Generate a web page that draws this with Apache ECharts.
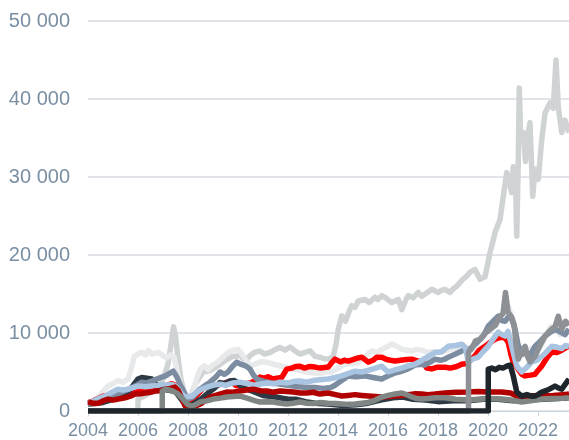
<!DOCTYPE html>
<html>
<head>
<meta charset="utf-8">
<script src="https://cdn.jsdelivr.net/npm/echarts@6/dist/echarts.min.js"></script>
<style>html,body{margin:0;padding:0;background:#fff}#c{width:569px;height:440px}</style>
</head>
<body>
<div id="c"></div>
<script>
const yTicks = [0, 10000, 20000, 30000, 40000, 50000];
const xYears = [2004, 2006, 2008, 2010, 2012, 2014, 2016, 2018, 2020, 2022];

const lightGrey = [[2004,0],[2006.0,0],[2006.0,1500],[2006.3,2000],[2006.6,2600],[2006.9,3300],[2007.05,4500],[2007.2,6000],[2007.32,8500],[2007.42,10800],[2007.5,9600],[2007.6,6800],[2007.72,4000],[2007.88,2000],[2008.05,1400],[2008.3,3500],[2008.6,5000],[2008.9,5200],[2009.2,5800],[2009.5,6500],[2009.8,7000],[2010.1,7100],[2010.3,6300],[2010.45,7000],[2010.65,7500],[2010.88,7700],[2011.05,7300],[2011.28,7500],[2011.5,7900],[2011.68,8140],[2011.88,7800],[2012.08,8200],[2012.28,7700],[2012.48,7300],[2012.68,7500],[2012.88,7720],[2013.08,7000],[2013.28,6900],[2013.45,6700],[2013.61,6650],[2013.8,6900],[2013.92,8500],[2014.01,10490],[2014.15,12200],[2014.3,11500],[2014.45,12800],[2014.55,13500],[2014.68,13300],[2014.81,14100],[2015.08,14300],[2015.25,13900],[2015.48,14600],[2015.6,14300],[2015.75,14800],[2015.95,14400],[2016.15,13900],[2016.41,14300],[2016.55,13000],[2016.68,14000],[2016.81,14800],[2017.0,14500],[2017.21,15200],[2017.35,14700],[2017.48,15000],[2017.62,15300],[2017.75,15600],[2018.01,15200],[2018.15,15500],[2018.28,15600],[2018.48,15200],[2018.62,15700],[2018.75,16000],[2019.0,16900],[2019.15,17300],[2019.28,17800],[2019.48,18150],[2019.68,16900],[2019.88,17200],[2020.08,20300],[2020.18,21500],[2020.28,22900],[2020.48,24550],[2020.61,27500],[2020.75,30560],[2020.85,29500],[2020.95,28000],[2021.01,31300],[2021.1,30000],[2021.15,22400],[2021.21,32000],[2021.25,41400],[2021.31,35000],[2021.41,35700],[2021.5,32000],[2021.6,35500],[2021.68,36950],[2021.79,27500],[2021.88,31000],[2022.01,29700],[2022.15,34800],[2022.28,38200],[2022.48,39500],[2022.61,38800],[2022.72,45000],[2022.81,39000],[2022.95,35700],[2023.08,37300],[2023.24,35700]];

const veryLightGrey = [[2004,1000],[2004.2,1300],[2004.4,1700],[2004.6,2500],[2004.8,3200],[2005.0,3500],[2005.2,3900],[2005.4,3700],[2005.6,4100],[2005.72,5300],[2005.85,7000],[2006.0,7300],[2006.15,7540],[2006.3,7200],[2006.41,7750],[2006.55,7300],[2006.7,7400],[2006.81,7540],[2007.0,7070],[2007.15,6800],[2007.3,7200],[2007.45,6900],[2007.6,4500],[2007.75,3000],[2007.88,1960],[2008.05,1400],[2008.2,2500],[2008.35,4200],[2008.5,5400],[2008.65,5800],[2008.8,5300],[2009.0,5900],[2009.2,6300],[2009.4,6900],[2009.6,7500],[2009.8,7800],[2010.0,7900],[2010.15,7300],[2010.3,6600],[2010.48,5800],[2010.7,6000],[2010.9,6300],[2011.15,6250],[2011.4,6000],[2011.68,5800],[2011.95,5600],[2012.21,5370],[2012.5,5200],[2012.75,4950],[2013.0,4900],[2013.28,4800],[2013.5,5000],[2013.75,5000],[2014.0,5500],[2014.28,6000],[2014.55,6100],[2014.81,6200],[2015.1,7000],[2015.35,7700],[2015.55,7500],[2015.75,7900],[2015.95,8200],[2016.15,8570],[2016.35,8300],[2016.55,7900],[2016.75,7800],[2016.95,7700],[2017.15,7900],[2017.35,7800],[2017.61,7500],[2017.8,7600],[2018.01,7500],[2018.28,7700],[2018.6,8000],[2019.0,8500],[2019.2,7600],[2019.5,8300],[2019.8,9800],[2020.1,11000],[2020.4,11800],[2020.6,12500],[2020.8,13500],[2020.95,12000],[2021.1,10000],[2021.25,7800],[2021.5,7500],[2021.7,8000],[2021.9,7400],[2022.1,8300],[2022.3,9500],[2022.5,10800],[2022.7,10500],[2022.9,9800],[2023.1,10300],[2023.24,9900]];

const red = [[2004,1000],[2004.2,1250],[2004.4,1600],[2004.6,1900],[2004.8,2000],[2005.0,2200],[2005.2,2100],[2005.45,2300],[2005.7,2500],[2005.9,2700],[2006.2,2800],[2006.5,2800],[2006.8,3000],[2007.1,3200],[2007.35,3500],[2007.55,3200],[2007.75,2000],[2007.95,1300],[2008.15,1200],[2008.4,2200],[2008.6,2900],[2008.88,3200],[2009.15,3300],[2009.4,3500],[2009.7,3840],[2009.9,3300],[2010.1,3200],[2010.3,3500],[2010.5,3600],[2010.7,3900],[2010.88,4350],[2011.05,4200],[2011.2,4400],[2011.4,4100],[2011.55,4200],[2011.75,4300],[2011.88,5000],[2011.95,5370],[2012.15,5500],[2012.3,5700],[2012.48,5750],[2012.65,5500],[2012.85,5700],[2013.08,5630],[2013.3,5500],[2013.61,5630],[2013.75,6200],[2013.88,6650],[2014.1,6300],[2014.25,6500],[2014.41,6400],[2014.6,6600],[2014.8,6800],[2014.95,6900],[2015.21,6270],[2015.4,6500],[2015.55,6900],[2015.75,6900],[2015.95,6600],[2016.1,6500],[2016.28,6400],[2016.5,6500],[2016.75,6600],[2016.95,6650],[2017.21,6400],[2017.4,6300],[2017.55,5500],[2017.75,5400],[2017.95,5600],[2018.28,5600],[2018.5,5500],[2018.75,5700],[2018.95,6000],[2019.15,6100],[2019.3,6500],[2019.48,7100],[2019.65,7800],[2019.88,8300],[2020.05,8700],[2020.28,9200],[2020.55,9460],[2020.7,9300],[2020.81,8800],[2020.92,7200],[2021.01,6270],[2021.21,5370],[2021.35,4700],[2021.48,4500],[2021.7,4600],[2021.88,4700],[2022.0,5200],[2022.15,5750],[2022.35,6800],[2022.55,7550],[2022.75,7500],[2022.95,7800],[2023.1,8100],[2023.24,8300]];

const darkSlate = [[2004,900],[2004.3,950],[2004.6,1100],[2005.0,1500],[2005.4,1900],[2005.7,2800],[2005.88,3600],[2006.0,4100],[2006.15,4300],[2006.35,4200],[2006.55,4100],[2006.68,3600],[2006.9,2800],[2007.2,2700],[2007.5,2500],[2007.8,1200],[2008.1,700],[2008.5,1500],[2008.8,2300],[2009.05,2900],[2009.28,3650],[2009.45,3500],[2009.68,3850],[2009.85,3900],[2009.95,3700],[2010.2,3000],[2010.6,2500],[2011.0,2000],[2011.5,1800],[2012.0,1500],[2012.3,1500],[2012.7,1200],[2013.08,1000],[2013.6,900],[2014.2,700],[2014.7,800],[2015.2,1000],[2015.7,1400],[2016.2,1700],[2016.6,1800],[2017.0,1500],[2017.5,1400],[2018.0,1200],[2018.6,1300],[2019.2,1300],[2019.8,1500],[2020.4,1500],[2021.0,1300],[2021.6,1400],[2022.2,1500],[2022.8,1600],[2023.24,1700]];

const slate = [[2004,1000],[2004.3,1100],[2004.6,1400],[2005.0,1900],[2005.4,2500],[2005.7,2900],[2005.88,3200],[2006.15,3700],[2006.35,3600],[2006.55,3840],[2006.75,4100],[2006.95,4350],[2007.1,4500],[2007.21,4730],[2007.41,5100],[2007.55,4400],[2007.7,3300],[2007.88,2170],[2008.01,1530],[2008.2,1800],[2008.48,2800],[2008.7,3300],[2008.88,3700],[2009.1,4300],[2009.28,5000],[2009.45,4700],[2009.6,5000],[2009.8,5800],[2009.95,6270],[2010.1,6000],[2010.21,5900],[2010.35,5700],[2010.48,5370],[2010.62,4600],[2010.75,4100],[2011.01,3840],[2011.3,3600],[2011.6,3500],[2012.0,3300],[2012.4,3100],[2012.8,3000],[2013.08,3000],[2013.4,2900],[2013.7,3000],[2013.88,3300],[2014.1,3800],[2014.41,4500],[2014.7,4400],[2015.08,4500],[2015.4,4300],[2015.75,4100],[2016.0,4500],[2016.3,4900],[2016.55,5100],[2016.8,5400],[2017.08,5900],[2017.3,6000],[2017.48,5900],[2017.7,6300],[2017.88,6650],[2018.1,6500],[2018.28,6650],[2018.41,6900],[2018.7,7300],[2018.95,7700],[2019.1,7900],[2019.3,8000],[2019.61,8950],[2019.85,9800],[2020.01,10870],[2020.2,11500],[2020.41,12150],[2020.55,11600],[2020.68,11500],[2020.85,12200],[2020.95,11800],[2021.08,10500],[2021.2,8500],[2021.28,7900],[2021.4,7300],[2021.55,7500],[2021.7,7200],[2021.88,8300],[2022.05,8800],[2022.28,9600],[2022.45,10000],[2022.68,10500],[2022.85,10200],[2023.08,9800],[2023.24,10500]];

const lightBlue = [[2004,1000],[2004.2,1200],[2004.4,1600],[2004.68,1900],[2004.9,2300],[2005.2,2800],[2005.4,2700],[2005.6,2800],[2005.8,3000],[2006.0,3200],[2006.3,3100],[2006.55,3200],[2006.8,3300],[2006.95,3400],[2007.15,3300],[2007.35,3400],[2007.5,3200],[2007.61,2800],[2007.75,2200],[2007.88,1800],[2008.15,1900],[2008.35,2400],[2008.55,2800],[2008.8,3100],[2009.0,3300],[2009.28,3450],[2009.5,3300],[2009.8,3600],[2010.08,3700],[2010.4,3500],[2010.65,3300],[2010.88,3450],[2011.2,3600],[2011.45,3500],[2011.68,3700],[2012.0,3600],[2012.25,3800],[2012.48,3840],[2012.75,3700],[2013.0,3900],[2013.28,4000],[2013.61,4100],[2013.9,4300],[2014.15,4500],[2014.4,4800],[2014.68,5100],[2014.95,5000],[2015.21,5200],[2015.5,5500],[2015.75,5750],[2015.9,5300],[2016.01,5000],[2016.3,5300],[2016.55,5500],[2016.8,5800],[2017.08,6000],[2017.3,6400],[2017.61,7000],[2017.88,7500],[2018.15,7600],[2018.41,8300],[2018.7,8400],[2018.95,8570],[2019.1,8100],[2019.21,6270],[2019.35,6600],[2019.61,6900],[2019.8,7600],[2020.01,8300],[2020.2,9200],[2020.41,10100],[2020.55,9800],[2020.68,9600],[2020.8,10200],[2020.95,8300],[2021.05,7000],[2021.15,5750],[2021.35,5000],[2021.55,5600],[2021.75,6300],[2021.95,6500],[2022.15,7000],[2022.35,7600],[2022.55,8300],[2022.75,8200],[2022.95,8000],[2023.1,8400],[2023.24,8300]];

const darkRed = [[2004,1150],[2004.2,1000],[2004.41,1000],[2004.6,1300],[2004.81,1530],[2005.0,1400],[2005.21,1530],[2005.48,1700],[2005.7,1900],[2005.88,2170],[2006.1,2200],[2006.28,2300],[2006.5,2400],[2006.68,2560],[2006.9,2600],[2007.08,2800],[2007.3,2900],[2007.48,3070],[2007.62,2600],[2007.75,1600],[2007.88,640],[2008.15,510],[2008.35,700],[2008.55,1000],[2008.75,1500],[2009.01,1920],[2009.3,2200],[2009.55,2430],[2009.8,2400],[2010.08,2560],[2010.35,2700],[2010.61,2800],[2010.9,2600],[2011.15,2560],[2011.4,2400],[2011.68,2560],[2011.95,2500],[2012.21,2430],[2012.5,2300],[2012.75,2300],[2013.0,2400],[2013.28,2170],[2013.61,2300],[2013.9,2100],[2014.15,1920],[2014.4,2000],[2014.68,2100],[2014.95,2000],[2015.21,1920],[2015.5,1850],[2015.75,1790],[2016.0,1850],[2016.28,1920],[2016.55,2000],[2016.81,2100],[2017.1,2200],[2017.35,2170],[2017.6,2100],[2017.88,2170],[2018.28,2300],[2018.7,2400],[2019.21,2430],[2019.6,2500],[2020.0,2450],[2020.55,2430],[2020.9,2300],[2021.1,2000],[2021.35,1900],[2021.7,1950],[2022.15,1920],[2022.6,2000],[2023.0,2100],[2023.24,2170]];

const greyGreen = [[2004,0],[2006.97,0],[2006.97,2560],[2007.1,2800],[2007.25,2700],[2007.4,2560],[2007.6,2200],[2007.75,1700],[2007.88,1200],[2008.0,800],[2008.15,640],[2008.3,800],[2008.48,1150],[2008.75,1300],[2009.01,1530],[2009.3,1650],[2009.55,1790],[2009.8,1850],[2010.08,1920],[2010.3,1700],[2010.48,1530],[2010.7,1300],[2010.88,1150],[2011.15,1200],[2011.41,1150],[2011.7,1000],[2011.95,900],[2012.2,1000],[2012.48,1150],[2012.75,1000],[2013.01,950],[2013.3,1100],[2013.6,1000],[2013.9,950],[2014.15,900],[2014.4,850],[2014.68,900],[2014.95,1000],[2015.21,1100],[2015.5,1400],[2015.75,1790],[2016.0,2000],[2016.28,2170],[2016.55,2300],[2016.75,2100],[2016.95,1800],[2017.15,1600],[2017.35,1530],[2017.6,1600],[2017.88,1700],[2018.28,1700],[2018.7,1500],[2019.21,1400],[2019.6,1500],[2020.0,1600],[2020.55,1530],[2020.9,1400],[2021.35,1150],[2021.7,1300],[2022.15,1530],[2022.6,1600],[2023.0,1650],[2023.24,1700]];

const mediumGrey = [[2004,0],[2019.22,0],[2019.22,7600],[2019.35,8000],[2019.5,9000],[2019.7,9200],[2019.9,10000],[2020.1,10500],[2020.3,11000],[2020.45,12000],[2020.6,12500],[2020.7,15200],[2020.8,12700],[2020.95,12000],[2021.05,11000],[2021.12,8500],[2021.21,6650],[2021.35,7500],[2021.48,8300],[2021.58,7000],[2021.68,6300],[2021.88,7000],[2022.05,8200],[2022.28,9600],[2022.45,10200],[2022.55,10500],[2022.68,10800],[2022.81,12150],[2022.95,10500],[2023.1,11500],[2023.24,11000]];

const black = [[2004,0],[2020.01,0],[2020.01,5370],[2020.15,5500],[2020.3,5300],[2020.45,5600],[2020.6,5500],[2020.75,5750],[2020.88,5900],[2020.95,5200],[2021.01,4500],[2021.15,2430],[2021.35,1920],[2021.55,2100],[2021.75,1900],[2021.88,1920],[2022.0,2100],[2022.15,2430],[2022.4,2700],[2022.68,3200],[2022.85,2900],[2022.95,2800],[2023.15,3700],[2023.24,4100]];

const seriesDefs = [
  ['lightGrey', lightGrey, '#cfd3d4'],
  ['veryLightGrey', veryLightGrey, '#e7e9ea'],
  ['red', red, '#ff0000'],
  ['darkSlate', darkSlate, '#2d3a45'],
  ['slate', slate, '#7c8ca1'],
  ['lightBlue', lightBlue, '#a9c4e1'],
  ['darkRed', darkRed, '#b10000'],
  ['greyGreen', greyGreen, '#7f8683'],
  ['mediumGrey', mediumGrey, '#8d9196'],
  ['black', black, '#1e252b']
];

const chart = echarts.init(document.getElementById('c'), null, {renderer: 'canvas'});
const fmt = v => String(v).replace(/\B(?=(\d{3})+(?!\d))/g, ' ');
chart.setOption({
  animation: false,
  backgroundColor: '#ffffff',
  grid: {left: 88, right: 0, top: 21, bottom: 28, containLabel: false},
  xAxis: {
    type: 'value', min: 2004, max: 2023.24, interval: 2,
    splitLine: {show: false},
    axisLine: {show: true, lineStyle: {color: '#ccd6dd', width: 1}},
    axisTick: {show: true, length: 5, lineStyle: {color: '#ccd6dd', width: 1}},
    axisLabel: {
      color: '#7a8fa3', fontSize: 18, fontFamily: 'Liberation Sans, Arial, sans-serif', margin: 11,
      showMaxLabel: false,
      formatter: v => (xYears.indexOf(v) >= 0 ? String(v) : '')
    }
  },
  yAxis: {
    type: 'value', min: yTicks[0], max: yTicks[yTicks.length - 1], interval: 10000,
    axisLine: {show: false}, axisTick: {show: false},
    splitLine: {show: true, lineStyle: {color: '#e1e5e9', width: 2}},
    axisLabel: {color: '#7a8fa3', fontSize: 20, fontFamily: 'Liberation Sans, Arial, sans-serif', margin: 18, formatter: fmt}
  },
  series: seriesDefs.map(([name, data, color]) => ({
    name, type: 'line', data, showSymbol: false, symbol: 'none',
    lineStyle: {color, width: 5.5, join: 'round'}, itemStyle: {color},
    emphasis: {disabled: true}
  }))
});
</script>
</body>
</html>
